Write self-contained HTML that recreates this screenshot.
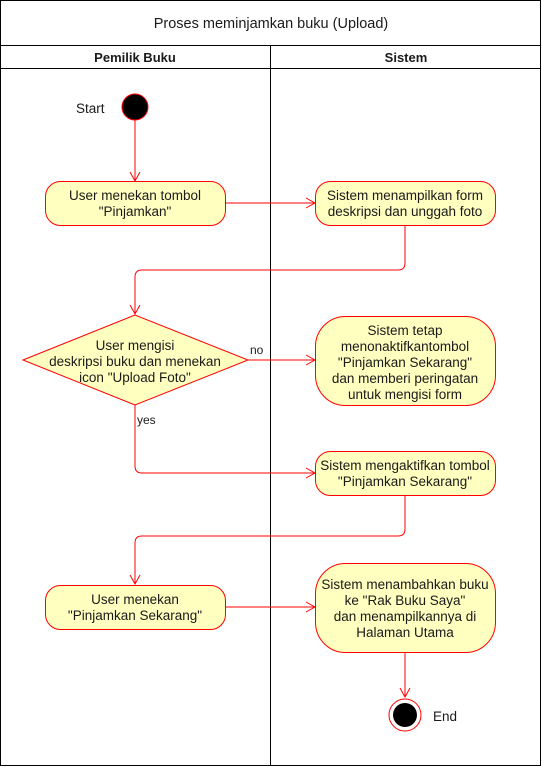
<!DOCTYPE html>
<html><head><meta charset="utf-8"><style>html,body{margin:0;padding:0;background:#fff}svg{display:block}</style></head>
<body>
<svg width="542" height="767" viewBox="0 0 542 767" xmlns="http://www.w3.org/2000/svg" font-family="Liberation Sans, Arial, sans-serif" font-size="13.5" fill="#1a1a1a">
<defs>
<marker id="a" markerWidth="12" markerHeight="12" refX="10" refY="6" orient="auto" markerUnits="userSpaceOnUse">
<path d="M1,1 L10,6 L1,11" fill="none" stroke="#ff0000" stroke-width="1"/>
</marker>
</defs>
<rect x="0.5" y="0.5" width="540" height="765" fill="#fff" stroke="#000"/>
<line x1="0" y1="45.5" x2="541" y2="45.5" stroke="#000"/>
<line x1="0" y1="68.5" x2="541" y2="68.5" stroke="#000"/>
<line x1="270.5" y1="45" x2="270.5" y2="766" stroke="#000"/>
<text x="271" y="28" text-anchor="middle" font-size="14.5">Proses meminjamkan buku (Upload)</text>
<text x="135" y="62" text-anchor="middle" font-weight="bold" font-size="13">Pemilik Buku</text>
<text x="406" y="62" text-anchor="middle" font-weight="bold" font-size="13">Sistem</text>

<g fill="none" stroke="#ff0000" stroke-width="1">
<line x1="135" y1="120" x2="135" y2="181" marker-end="url(#a)"/>
<line x1="225" y1="203" x2="315" y2="203" marker-end="url(#a)"/>
<path d="M405,225 V263 Q405,270 398,270 H142 Q135,270 135,277 V314" marker-end="url(#a)"/>
<line x1="248" y1="360" x2="315" y2="360" marker-end="url(#a)"/>
<path d="M135,405 V466 Q135,473 142,473 H315" marker-end="url(#a)"/>
<path d="M405,495 V529 Q405,536 398,536 H142 Q135,536 135,543 V584" marker-end="url(#a)"/>
<line x1="225" y1="607" x2="315" y2="607" marker-end="url(#a)"/>
<line x1="405" y1="652" x2="405" y2="697" marker-end="url(#a)"/>
</g>

<circle cx="135" cy="107" r="13" fill="#000" stroke="#ff0000"/>
<text x="76" y="113">Start</text>

<g fill="#ffffc0" stroke="#ff0000" stroke-width="1">
<rect x="45.5" y="181.5" width="180" height="44" rx="15"/>
<rect x="315.5" y="181.5" width="180" height="44" rx="15"/>
<polygon points="23,360 135,315 248,360 135,405"/>
<rect x="315.5" y="316.5" width="180" height="89" rx="30"/>
<rect x="315.5" y="451.5" width="180" height="44" rx="15"/>
<rect x="45.5" y="585.5" width="180" height="44" rx="15"/>
<rect x="315.5" y="563.5" width="180" height="89" rx="30"/>
</g>

<g text-anchor="middle">
<text x="135" y="200">User menekan tombol</text>
<text x="135" y="216">"Pinjamkan"</text>
<text x="405" y="200">Sistem menampilkan form</text>
<text x="405" y="216">deskripsi dan unggah foto</text>
<text x="135" y="350">User mengisi</text>
<text x="135" y="366">deskripsi buku dan menekan</text>
<text x="135" y="382">icon "Upload Foto"</text>
<text x="405" y="335">Sistem tetap</text>
<text x="405" y="351">menonaktifkantombol</text>
<text x="405" y="367">"Pinjamkan Sekarang"</text>
<text x="405" y="383">dan memberi peringatan</text>
<text x="405" y="399">untuk mengisi form</text>
<text x="405" y="470">Sistem mengaktifkan tombol</text>
<text x="405" y="486">"Pinjamkan Sekarang"</text>
<text x="135" y="604">User menekan</text>
<text x="135" y="620">"Pinjamkan Sekarang"</text>
<text x="405" y="589">Sistem menambahkan buku</text>
<text x="405" y="605">ke "Rak Buku Saya"</text>
<text x="405" y="621">dan menampilkannya di</text>
<text x="405" y="637">Halaman Utama</text>
</g>
<text x="250" y="354" font-size="12">no</text>
<text x="137" y="424" font-size="12">yes</text>

<circle cx="405" cy="715" r="16" fill="#fff" stroke="#ff0000"/>
<circle cx="405" cy="715" r="12" fill="#000"/>
<text x="433" y="721">End</text>
</svg>
</body></html>
